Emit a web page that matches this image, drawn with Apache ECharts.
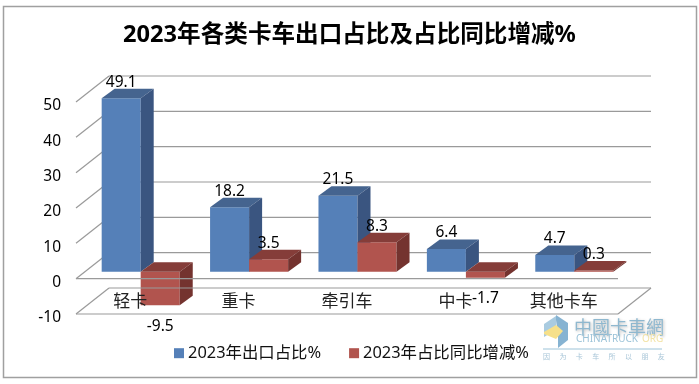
<!DOCTYPE html>
<html>
<head>
<meta charset="utf-8">
<style>
  html, body { margin: 0; padding: 0; background: #fff; }
  #chart { width: 699px; height: 384px; }
</style>
<script src="https://cdn.jsdelivr.net/npm/echarts@6/dist/echarts.min.js"></script>
</head>
<body>
<div id="chart"></div>
<script>
const categories = ["轻卡", "重卡", "牵引车", "中卡", "其他卡车"];
const shareValues = [49.1, 18.2, 21.5, 6.4, 4.7];
const changeValues = [-9.5, 3.5, 8.3, -1.7, 0.3];
const shareName = "2023年出口占比%";
const changeName = "2023年占比同比增减%";
const wallTicks = [0, 10, 20, 30, 40, 50];
const yMin = -10;
const yMax = 50;

const FONT = '"Noto Sans", "Noto Sans CJK SC", sans-serif';
const LINE = "#9a9a9a";
// fake 3d: how far the back wall sits from the front plane
const WALL_DX = 33;
const WALL_DY = 26;
// bars stand in the middle of that depth
const BAR_DX = 10.5;
const BAR_DY = 7;
const DEPTH_DX = 13;
const DEPTH_DY = 9.5;
const BAR_RATIO = 0.36;

const BLUE = { front: "#5580b8", top: "#45648f", side: "#3a5580" };
const RED = { front: "#b1544e", top: "#853d39", side: "#74332f" };

function bar3d(colors, side) {
  return function (params, api) {
    const idx = api.value(0);
    const val = api.value(1);
    const band = api.size([1, 0])[0];
    const w = band * BAR_RATIO;
    const base = api.coord([idx, 0]);
    const end = api.coord([idx, val]);
    const left = base[0] + BAR_DX + (side < 0 ? -w : 0);
    const right = left + w;
    const y0 = base[1] - BAR_DY;
    const y1 = end[1] - BAR_DY;
    const upper = Math.min(y0, y1);
    const lower = Math.max(y0, y1);
    const poly = (points, fill) => ({
      type: "polygon",
      shape: { points: points },
      style: { fill: fill }
    });
    return {
      type: "group",
      children: [
        poly([[left, upper], [right, upper], [right, lower], [left, lower]], colors.front),
        poly([[left, upper], [left + DEPTH_DX, upper - DEPTH_DY], [right + DEPTH_DX, upper - DEPTH_DY], [right, upper]], colors.top),
        poly([[right, upper], [right + DEPTH_DX, upper - DEPTH_DY], [right + DEPTH_DX, lower - DEPTH_DY], [right, lower]], colors.side),
        {
          type: "text",
          x: left + w / 2,
          y: val < 0 ? lower + 21 : upper - 16,
          style: {
            text: String(val),
            fill: "#000",
            font: "15.5px " + FONT,
            align: "center",
            verticalAlign: "middle"
          }
        }
      ]
    };
  };
}

function seg(x1, y1, x2, y2) {
  return {
    type: "line",
    shape: { x1: x1, y1: y1, x2: x2, y2: y2 },
    style: { stroke: LINE, lineWidth: 1.2 }
  };
}

function renderWall(params, api) {
  const sys = params.coordSys;
  const y = api.coord([0, api.value(1)])[1];
  return {
    type: "group",
    children: [
      seg(sys.x, y, sys.x + WALL_DX, y - WALL_DY),
      seg(sys.x + WALL_DX, y - WALL_DY, sys.x + sys.width + WALL_DX, y - WALL_DY)
    ]
  };
}

// floor sits on top of the bars in the original, the negative bars show through it
function renderFloor(params, api) {
  const sys = params.coordSys;
  const y = api.coord([0, api.value(1)])[1];
  const zero = api.coord([0, 0])[1];
  const r = sys.x + sys.width;
  return {
    type: "group",
    children: [
      seg(sys.x, zero, r, zero),
      seg(sys.x, y, r, y),
      seg(sys.x, y, sys.x + WALL_DX, y - WALL_DY),
      seg(r, y, r + WALL_DX, y - WALL_DY),
      seg(sys.x + WALL_DX, y - WALL_DY, r + WALL_DX, y - WALL_DY)
    ]
  };
}

const toRows = (arr) => arr.map((v, i) => [i, v]);

const mottoChars = ["因", "为", "卡", "车", "所", "以", "朋", "友"];
const watermark = [
  { type: "polygon", shape: { points: [[544, 324], [556, 316], [556, 330], [544, 337]] }, style: { fill: "#a9cbe0" } },
  { type: "polygon", shape: { points: [[556, 315], [568, 323], [568, 340], [558, 348], [558, 337], [556, 320]] }, style: { fill: "#86b3d2" } },
  { type: "polygon", shape: { points: [[544, 332], [556, 325], [563, 331], [556, 339], [544, 334]] }, style: { fill: "#f6e08a" } },
  { type: "text", x: 574, y: 327, style: { text: "中國卡車網", fill: "#8fb8cf", font: "18px 'Noto Sans CJK TC'", verticalAlign: "middle", textShadowColor: "#bbb", textShadowBlur: 3, textShadowOffsetX: 1, textShadowOffsetY: 1 } },
  { type: "text", x: 576, y: 339, style: { text: "CHINATRUCK", fill: "#9cc3d8", font: "10px " + FONT, verticalAlign: "middle" } },
  { type: "text", x: 642, y: 339, style: { text: "ORG", fill: "#f3e3a6", font: "10px " + FONT, verticalAlign: "middle" } },
  { type: "line", shape: { x1: 543, y1: 349, x2: 662, y2: 349 }, style: { stroke: "#9cc3d8", lineWidth: 1 } }
].concat(mottoChars.map((c, i) => ({
  type: "text",
  x: 543 + i * 16.4,
  y: 356,
  style: { text: c, fill: "#a9c6d8", font: "7px 'Noto Sans CJK SC'", verticalAlign: "middle" }
})));

const chart = echarts.init(document.getElementById("chart"), null, { renderer: "canvas" });

chart.setOption({
  animation: false,
  backgroundColor: "#fff",
  textStyle: { fontFamily: FONT },
  title: {
    text: "2023年各类卡车出口占比及占比同比增减%",
    left: "center",
    top: 18,
    textStyle: { fontSize: 23.6, fontWeight: "bold", color: "#000", fontFamily: FONT }
  },
  legend: {
    data: [shareName, changeName],
    left: 174,
    top: 345,
    padding: 0,
    icon: "rect",
    itemWidth: 10,
    itemHeight: 10,
    itemGap: 28,
    textStyle: { fontSize: 16.4, color: "#111", padding: [0, 0, 0, -1] }
  },
  grid: { left: 76, right: 81, top: 102, bottom: 70 },
  xAxis: {
    type: "category",
    data: categories,
    position: "bottom",
    z: 5,
    axisLine: { show: false },
    axisTick: { show: false },
    axisLabel: { fontSize: 17, color: "#222", margin: -20, interval: 0 }
  },
  yAxis: {
    type: "value",
    min: yMin,
    max: yMax,
    interval: 10,
    axisLine: { show: false },
    axisTick: { show: false },
    splitLine: { show: false },
    axisLabel: { fontSize: 15.5, color: "#000", margin: 15, verticalAlign: "top", lineHeight: 8 }
  },
  series: [
    { type: "custom", name: "wall", z: 1, silent: true, data: wallTicks.map((v) => [0, v]), renderItem: renderWall },
    { type: "custom", name: shareName, z: 2, itemStyle: { color: BLUE.front }, data: toRows(shareValues), renderItem: bar3d(BLUE, -1) },
    { type: "custom", name: changeName, z: 2, itemStyle: { color: RED.front }, data: toRows(changeValues), renderItem: bar3d(RED, 1) },
    { type: "custom", name: "floor", z: 3, silent: true, data: [[0, yMin]], renderItem: renderFloor }
  ],
  graphic: [
    {
      type: "rect",
      shape: { x: 3.5, y: 6.5, width: 693, height: 371 },
      style: { fill: "none", stroke: "#a0a0a0", lineWidth: 1.5 },
      silent: true
    },
    { type: "group", silent: true, children: watermark }
  ]
});
</script>
</body>
</html>
